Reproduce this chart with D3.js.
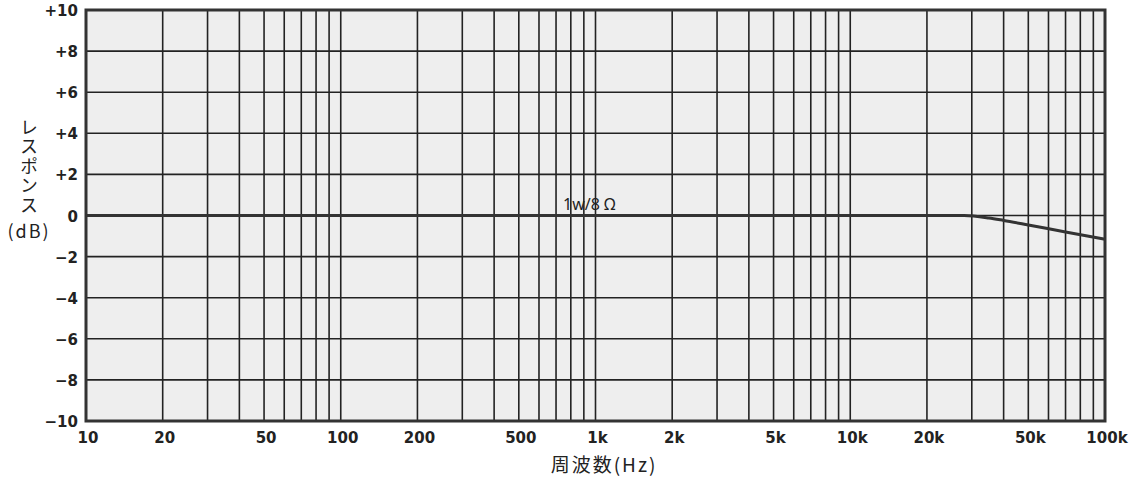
<!DOCTYPE html>
<html>
<head>
<meta charset="utf-8">
<script src="https://cdn.jsdelivr.net/npm/d3@7"></script>
<style>
  body { margin: 0; background: #fff; }
  .tick-label { font-family: "DejaVu Sans", sans-serif; font-weight: bold; font-size: 15px; fill: #222; }
  .jp { font-family: "Noto Sans CJK JP", sans-serif; font-size: 18px; fill: #222; }
</style>
</head>
<body>
<div id="chart"></div>
<script>
// response curve (Hz, dB)
const freqs = [10, 20, 50, 100, 1000, 10000, 20000, 28000, 35000, 40000, 50000, 70000, 100000];
const gainDb = [0, 0, 0, 0, 0, 0, 0, 0, -0.12, -0.24, -0.46, -0.8, -1.15];

const xTickValues = [10, 20, 50, 100, 200, 500, 1000, 2000, 5000, 10000, 20000, 50000, 100000];
const xTickLabels = ["10", "20", "50", "100", "200", "500", "1k", "2k", "5k", "10k", "20k", "50k", "100k"];
const yTickValues = [10, 8, 6, 4, 2, 0, -2, -4, -6, -8, -10];
const yTickLabels = ["+10", "+8", "+6", "+4", "+2", "0", "\u22122", "\u22124", "\u22126", "\u22128", "\u221210"];

const w = 1135, h = 477;
const plotLeft = 86, plotRight = 1105, plotTop = 10, plotBottom = 421;

const svg = d3.select("#chart").append("svg")
  .attr("width", w)
  .attr("height", h);

const xScale = d3.scaleLog().domain([10, 100000]).range([plotLeft, plotRight]);
const yScale = d3.scaleLinear().domain([-10, 10]).range([plotBottom, plotTop]);

// paper background
svg.append("rect")
  .attr("x", plotLeft).attr("y", plotTop)
  .attr("width", plotRight - plotLeft).attr("height", plotBottom - plotTop)
  .attr("fill", "#eeeeee");

// vertical grid: every integer multiple inside each decade
let gridX = [];
for (let d = 10; d < 100000; d *= 10) {
  for (let k = 2; k <= 10; k++) gridX.push(d * k);
}
gridX = gridX.filter(v => v < 100000);

svg.append("g").selectAll("line")
  .data(gridX)
  .enter().append("line")
  .attr("x1", d => xScale(d)).attr("x2", d => xScale(d))
  .attr("y1", plotTop).attr("y2", plotBottom)
  .attr("stroke", "#222")
  .attr("stroke-width", 1.6);

svg.append("g").selectAll("line")
  .data(yTickValues.filter(v => v != 10 && v != -10))
  .enter().append("line")
  .attr("x1", plotLeft).attr("x2", plotRight)
  .attr("y1", d => yScale(d)).attr("y2", d => yScale(d))
  .attr("stroke", "#222")
  .attr("stroke-width", 1.6);

// frame
svg.append("rect")
  .attr("x", plotLeft).attr("y", plotTop)
  .attr("width", plotRight - plotLeft).attr("height", plotBottom - plotTop)
  .attr("fill", "none")
  .attr("stroke", "#333")
  .attr("stroke-width", 3);

// curve
const line = d3.line()
  .x((d, i) => xScale(freqs[i]))
  .y(d => yScale(d))
  .curve(d3.curveMonotoneX);

svg.append("path")
  .datum(gainDb)
  .attr("d", line)
  .attr("fill", "none")
  .attr("stroke", "#333")
  .attr("stroke-width", 3);

// y tick labels
svg.append("g").selectAll("text")
  .data(yTickValues)
  .enter().append("text")
  .attr("class", "tick-label")
  .attr("x", 78)
  .attr("y", d => yScale(d) + 6)
  .attr("text-anchor", "end")
  .text((d, i) => yTickLabels[i]);

// x tick labels
svg.append("g").selectAll("text")
  .data(xTickValues)
  .enter().append("text")
  .attr("class", "tick-label")
  .attr("x", d => xScale(d) + 2)
  .attr("y", 443)
  .attr("text-anchor", "middle")
  .text((d, i) => xTickLabels[i]);

// axis titles
svg.append("text")
  .attr("class", "jp")
  .attr("x", 29)
  .attr("y", 118)
  .style("writing-mode", "vertical-rl")
  .style("text-orientation", "upright")
  .style("letter-spacing", "1.5px")
  .text("レスポンス");

svg.append("text")
  .attr("class", "jp")
  .attr("x", 29)
  .attr("y", 238)
  .attr("text-anchor", "middle")
  .style("letter-spacing", "2px")
  .text("(dB)");

svg.append("text")
  .attr("class", "jp")
  .attr("x", 604)
  .attr("y", 472)
  .attr("text-anchor", "middle")
  .style("font-size", "19px")
  .style("letter-spacing", "2px")
  .text("周波数(Hz)");

svg.append("text")
  .attr("x", 563)
  .attr("y", 210)
  .style("font-family", "'Noto Sans', sans-serif")
  .style("font-size", "16px")
  .attr("fill", "#222")
  .text("1w/8 Ω");
</script>
</body>
</html>
